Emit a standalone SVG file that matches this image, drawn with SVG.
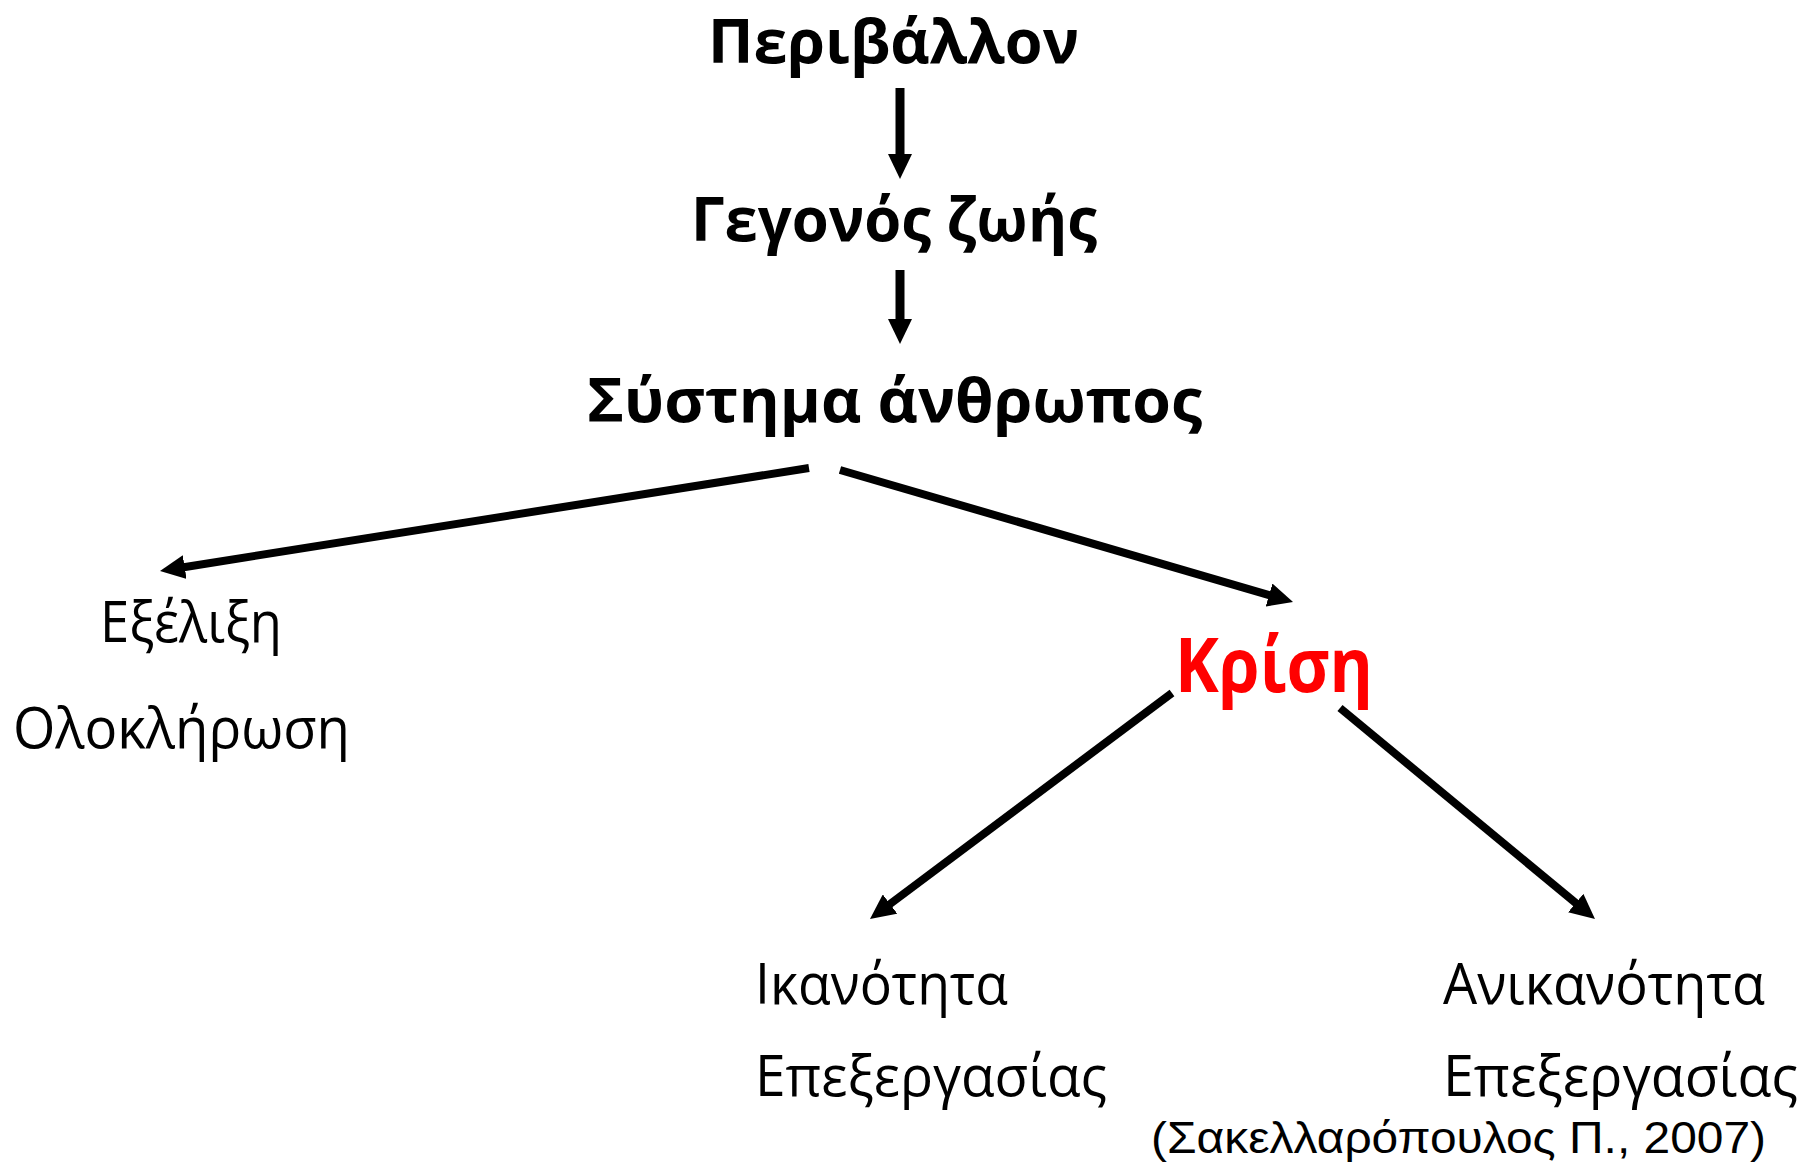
<svg xmlns="http://www.w3.org/2000/svg" width="1812" height="1164" viewBox="0 0 1812 1164">
<style>
.h{font-family:"Open Sans","Noto Sans","DejaVu Sans",sans-serif;font-weight:bold;font-size:60px;fill:#000}
.r{font-family:"Open Sans","Noto Sans","DejaVu Sans",sans-serif;font-size:56px;fill:#000}
.k{font-family:"Open Sans","Noto Sans","DejaVu Sans",sans-serif;font-weight:bold;font-size:76px;fill:#ff0000}
.c{font-family:"Liberation Sans",Arial,sans-serif;font-size:45px;fill:#000}
.ln{stroke:#000;stroke-width:8;fill:none;marker-end:url(#ah)}
.v{stroke-width:9}
</style>
<defs>
<marker id="ah" markerUnits="userSpaceOnUse" markerWidth="26" markerHeight="24" viewBox="0 0 26 24" refX="1" refY="12" orient="auto">
<path d="M0,0 L25,12 L0,24 z" fill="#000"/>
</marker>
</defs>
<rect width="1812" height="1164" fill="#fff"/>
<g id="connectors">
<line class="ln v" x1="900" y1="88" x2="900" y2="155"/>
<line class="ln v" x1="900" y1="270" x2="900" y2="320"/>
<line class="ln" x1="809" y1="468" x2="183.7" y2="567.2"/>
<line class="ln" x1="840" y1="470" x2="1270" y2="595.3"/>
<line class="ln" x1="1172" y1="693" x2="889.2" y2="904.6"/>
<line class="ln" x1="1340" y1="708" x2="1576.5" y2="903.7"/>
</g>
<g id="n-periballon"><text class="h" x="708" y="63" textLength="371" lengthAdjust="spacingAndGlyphs">Περιβάλλον</text></g>
<g id="n-gegonos"><text class="h" x="691" y="241" textLength="406" lengthAdjust="spacingAndGlyphs">Γεγονός ζωής</text></g>
<g id="n-systima"><text class="h" x="587" y="422" textLength="615" lengthAdjust="spacingAndGlyphs">Σύστημα άνθρωπος</text></g>
<g id="n-exelixi">
<text class="r" x="100" y="642" textLength="182" lengthAdjust="spacingAndGlyphs">Εξέλιξη</text>
<text class="r" x="13" y="748" textLength="337" lengthAdjust="spacingAndGlyphs">Ολοκλήρωση</text>
</g>
<g id="n-krisi"><text class="k" x="1175" y="692" textLength="198" lengthAdjust="spacingAndGlyphs">Κρίση</text></g>
<g id="n-ikanotita">
<text class="r" x="755" y="1004" textLength="253" lengthAdjust="spacingAndGlyphs">Ικανότητα</text>
<text class="r" x="755" y="1096" textLength="352" lengthAdjust="spacingAndGlyphs">Επεξεργασίας</text>
</g>
<g id="n-anikanotita">
<text class="r" x="1443" y="1004" textLength="322" lengthAdjust="spacingAndGlyphs">Ανικανότητα</text>
<text class="r" x="1443" y="1096" textLength="355" lengthAdjust="spacingAndGlyphs">Επεξεργασίας</text>
</g>
<g id="citation"><text class="c" x="1151" y="1153" textLength="615" lengthAdjust="spacingAndGlyphs">(Σακελλαρόπουλος Π., 2007)</text></g>
</svg>
